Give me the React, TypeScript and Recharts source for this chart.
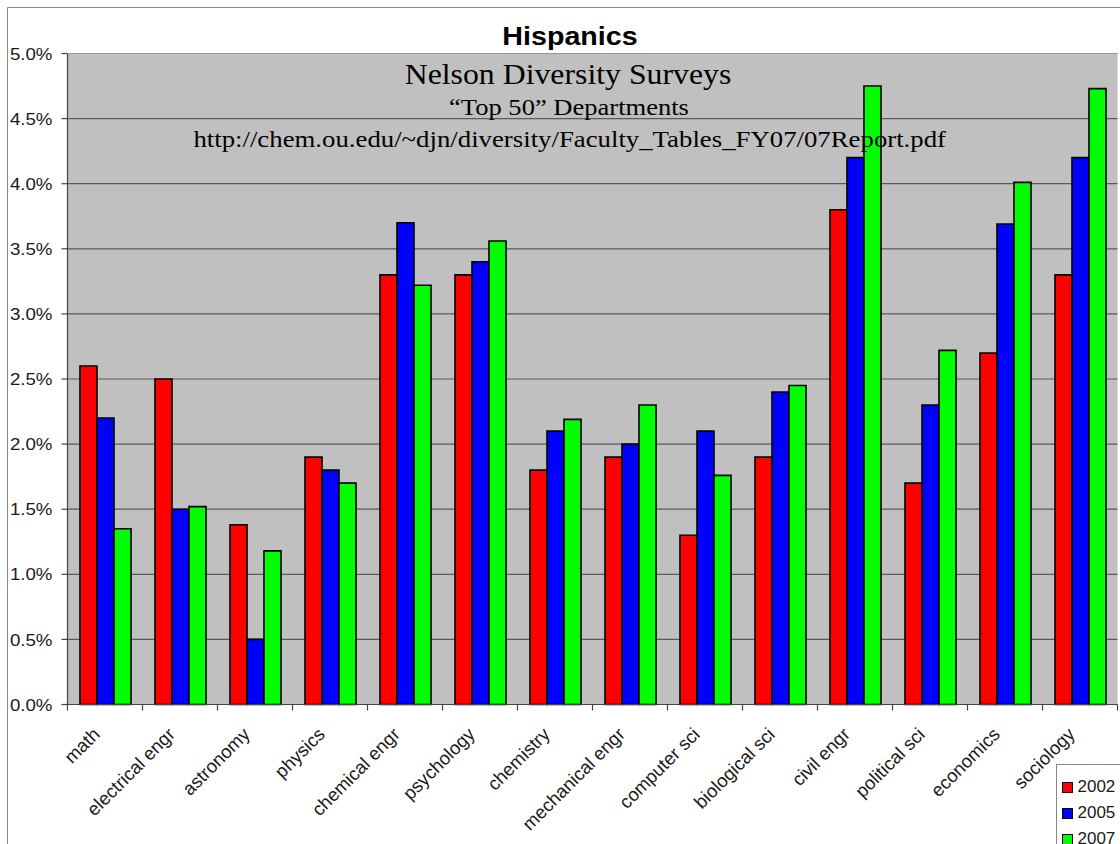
import { BarChart, Bar, XAxis, YAxis, CartesianGrid, Legend } from 'recharts'

const categories = [
  'math',
  'electrical engr',
  'astronomy',
  'physics',
  'chemical engr',
  'psychology',
  'chemistry',
  'mechanical engr',
  'computer sci',
  'biological sci',
  'civil engr',
  'political sci',
  'economics',
  'sociology',
]

const values2002 = [2.6, 2.5, 1.38, 1.9, 3.3, 3.3, 1.8, 1.9, 1.3, 1.9, 3.8, 1.7, 2.7, 3.3]
const values2005 = [2.2, 1.5, 0.5, 1.8, 3.7, 3.4, 2.1, 2.0, 2.1, 2.4, 4.2, 2.3, 3.69, 4.2]
const values2007 = [1.35, 1.52, 1.18, 1.7, 3.22, 3.56, 2.19, 2.3, 1.76, 2.45, 4.75, 2.72, 4.01, 4.73]

const yTicks = [0, 0.5, 1, 1.5, 2, 2.5, 3, 3.5, 4, 4.5, 5]

const title = 'Hispanics'
const subtitle1 = 'Nelson Diversity Surveys'
const subtitle2 = '\u201CTop 50\u201D Departments'
const sourceUrl = 'http://chem.ou.edu/~djn/diversity/Faculty_Tables_FY07/07Report.pdf'

const data = categories.map((name, i) => ({
  name,
  y2002: values2002[i],
  y2005: values2005[i],
  y2007: values2007[i],
}))

const SANS = '"Liberation Sans", Arial, sans-serif'
const SERIF = '"Liberation Serif", "Times New Roman", serif'

const W = 1113
const H = 837

// category ticks sit between groups, labels hang under the group centre
function CategoryTick(props: any) {
  const { x, y, payload, index } = props
  const half =
    payload?.offset ||
    (props.width && props.visibleTicksCount ? props.width / props.visibleTicksCount / 2 : 37.5)
  const tx = x - 4
  const ty = y + 31
  return (
    <g>
      <line x1={x - half} x2={x - half} y1={y} y2={y + 6} stroke="#444" strokeWidth={1.2} />
      {index === categories.length - 1 && (
        <line x1={x + half} x2={x + half} y1={y} y2={y + 6} stroke="#444" strokeWidth={1.2} />
      )}
      <text
        transform={`translate(${tx} ${ty}) rotate(-45)`}
        textAnchor="end"
        fontSize={18.5}
        fontFamily={SANS}
        fill="#1a1a1a"
      >
        {payload.value}
      </text>
    </g>
  )
}

function PercentTick(props: any) {
  const { x, y, payload } = props
  return (
    <text
      transform={`translate(${x} ${y}) scale(1.1 1)`}
      dy="0.36em"
      textAnchor="end"
      fontSize={17}
      fontFamily={SANS}
      fill="#1a1a1a"
    >
      {`${Number(payload.value).toFixed(1)}%`}
    </text>
  )
}

function LegendBox(props: any) {
  const items = props.payload || []
  return (
    <div
      style={{
        width: 72,
        height: 90,
        background: '#fff',
        border: '1px solid #888',
        boxSizing: 'border-box',
        paddingTop: 9,
        paddingLeft: 5,
      }}
    >
      {items.map((item: any) => (
        <div
          key={item.value}
          style={{ display: 'flex', alignItems: 'center', height: 26, fontFamily: SANS, fontSize: 17, color: '#1a1a1a' }}
        >
          <span
            style={{
              display: 'inline-block',
              width: 9,
              height: 9,
              background: item.color,
              border: '1px solid #000',
              marginRight: 5,
            }}
          />
          {item.value}
        </div>
      ))}
    </div>
  )
}

// the source picture is a little stretched sideways, so the titles are too
function StretchedText({ x, y, size, sx, family, weight, children }: any) {
  return (
    <text
      transform={`translate(${x} ${y}) scale(${sx} 1)`}
      textAnchor="middle"
      fontSize={size}
      fontFamily={family}
      fontWeight={weight}
      fill="#000"
    >
      {children}
    </text>
  )
}

export default function App() {
  return (
    <div style={{ position: 'fixed', left: 7, top: 7, width: W, height: H, overflow: 'hidden', background: '#fff' }}>
      <BarChart
        width={W}
        height={H}
        data={data}
        margin={{ top: 46.5, right: 2.5, left: 0, bottom: 9.5 }}
        barGap={0}
        barCategoryGap={12.5}
      >
        <CartesianGrid vertical={false} stroke="#5a5a5a" strokeWidth={1.2} fill="#C0C0C0" fillOpacity={1} />
        <XAxis
          dataKey="name"
          interval={0}
          height={130}
          tickSize={0}
          tickMargin={0}
          tickLine={false}
          axisLine={{ stroke: '#444', strokeWidth: 1.2 }}
          tick={<CategoryTick />}
        />
        <YAxis
          width={60.5}
          domain={[0, 5]}
          ticks={yTicks}
          interval={0}
          tickSize={6}
          tickMargin={9}
          tickLine={{ stroke: '#444', strokeWidth: 1.2 }}
          axisLine={{ stroke: '#444', strokeWidth: 1.2 }}
          tick={<PercentTick />}
        />
        <Legend
          layout="vertical"
          align="center"
          verticalAlign="middle"
          wrapperStyle={{ left: 1048.5, top: 757, width: 72 }}
          content={<LegendBox />}
        />
        <Bar dataKey="y2002" name="2002" fill="#FF0000" stroke="#000" strokeWidth={1.6} isAnimationActive={false} />
        <Bar dataKey="y2005" name="2005" fill="#0000FF" stroke="#000" strokeWidth={1.6} isAnimationActive={false} />
        <Bar dataKey="y2007" name="2007" fill="#00FF00" stroke="#000" strokeWidth={1.6} isAnimationActive={false} />
      </BarChart>
      <svg
        width={W}
        height={H}
        style={{ position: 'absolute', left: 0, top: 0, pointerEvents: 'none' }}
      >
        <line x1={0.5} x2={W} y1={0.5} y2={0.5} stroke="#888" />
        <line x1={0.5} x2={0.5} y1={0.5} y2={H} stroke="#888" />
        <line x1={60.5} x2={1110.5} y1={46.5} y2={46.5} stroke="#999" strokeWidth={1.2} />
        <StretchedText x={563} y={38} size={25.6} sx={1.12} family={SANS} weight="bold">
          {title}
        </StretchedText>
        <StretchedText x={561} y={77} size={29.7} sx={1.07} family={SERIF} weight="normal">
          {subtitle1}
        </StretchedText>
        <StretchedText x={562} y={108} size={23.5} sx={1.13} family={SERIF} weight="normal">
          {subtitle2}
        </StretchedText>
        <StretchedText x={562.7} y={140} size={23.5} sx={1.14} family={SERIF} weight="normal">
          {sourceUrl}
        </StretchedText>
      </svg>
    </div>
  )
}
